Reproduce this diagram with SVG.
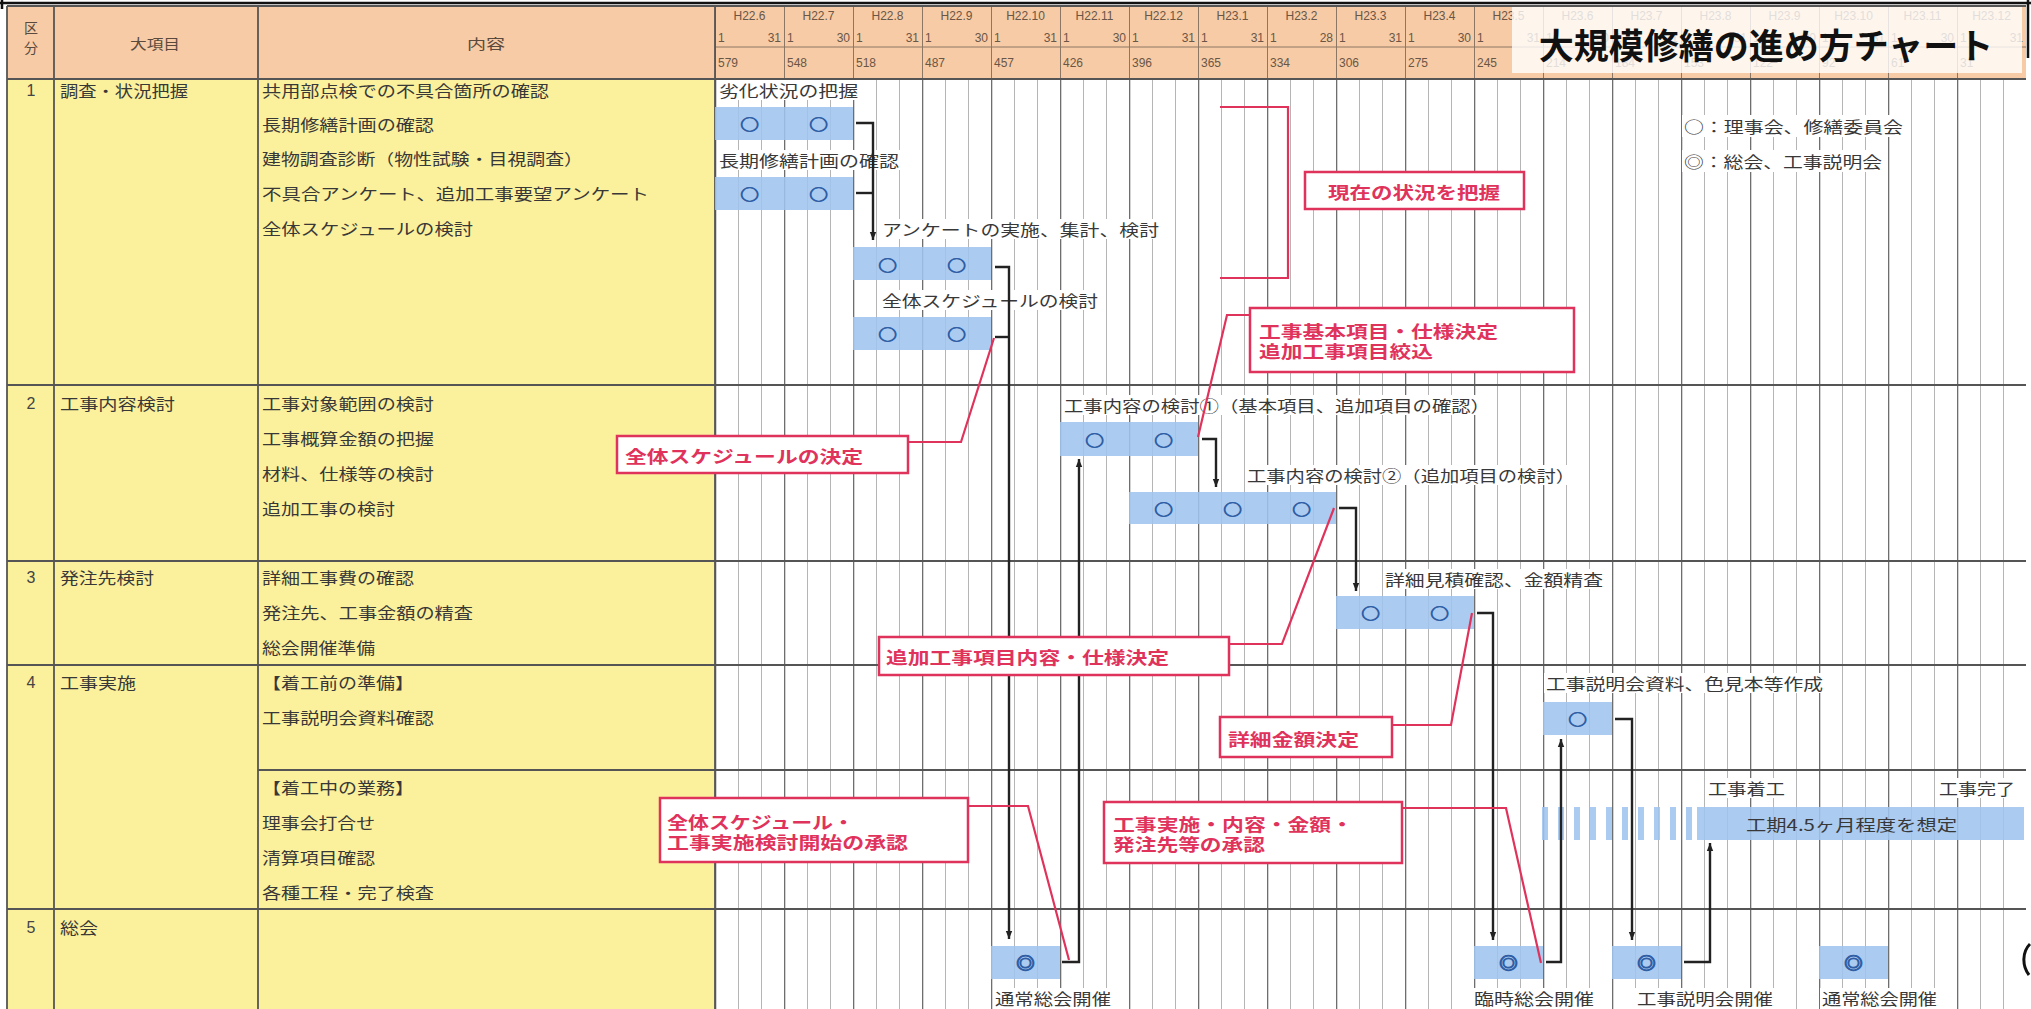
<svg xmlns="http://www.w3.org/2000/svg" width="2031" height="1009" viewBox="0 0 2031 1009">
<defs>
<style>
.t{font-family:"Noto Sans CJK JP","Noto Sans",sans-serif;font-size:15.5px;fill:#383838;dominant-baseline:central}
.th{font-family:"Noto Sans CJK JP","Noto Sans",sans-serif;font-size:14px;fill:#5a4a3e;dominant-baseline:central;text-anchor:middle}
.h{font-family:"Liberation Sans","Noto Sans",sans-serif;font-size:12px;fill:#6a5646;dominant-baseline:central}
.n{font-family:"Liberation Sans",sans-serif;font-size:16px;fill:#444;text-anchor:middle;dominant-baseline:central}
.r{font-family:"Noto Sans CJK JP",sans-serif;font-size:17px;font-weight:bold;fill:#E0335C;dominant-baseline:central}
.rb{fill:#fff;stroke:#E0335C;stroke-width:2.5}
.rl{fill:none;stroke:#E0335C;stroke-width:2.2}
.bar{fill:#9FC4EE;fill-opacity:0.88}
.c{fill:none;stroke:#222;stroke-width:2.4}
.sym{font-family:"Noto Sans CJK JP",sans-serif;font-size:15px;font-weight:bold;fill:#2F5EA5;stroke:#2F5EA5;stroke-width:0.7;text-anchor:middle;dominant-baseline:central}
.dsym{font-family:"Noto Sans CJK JP",sans-serif;font-size:16px;font-weight:bold;fill:#2F5EA5;stroke:#2F5EA5;stroke-width:1.1;text-anchor:middle;dominant-baseline:central}
.wb{fill:#fff}
.ln{stroke:#555;stroke-width:1.8}
.hl{stroke:#8c7664;stroke-width:1}
</style>
<pattern id="grid" x="715" y="0" width="69" height="10" patternUnits="userSpaceOnUse">
<rect x="0" y="0" width="69" height="10" fill="#fff"/>
<rect x="0" y="0" width="1.3" height="10" fill="#6e6e6e"/>
<rect x="23" y="0" width="0.9" height="10" fill="#adadad"/>
<rect x="46" y="0" width="0.9" height="10" fill="#adadad"/>
</pattern>
<pattern id="hgrid" x="715" y="0" width="69" height="10" patternUnits="userSpaceOnUse">
<rect x="0" y="0" width="69" height="10" fill="#F7CBA5"/>
<rect x="0" y="0" width="1" height="10" fill="#8c7664"/>
</pattern>
<marker id="ah" viewBox="0 0 10 10" refX="10" refY="5" markerWidth="8" markerHeight="8" markerUnits="userSpaceOnUse" orient="auto">
<path d="M0,1 L10,5 L0,9 z" fill="#222"/>
</marker>
</defs>

<rect x="0" y="0" width="2031" height="1009" fill="#fff"/>

<!-- header -->
<g id="header">
<rect x="7" y="6" width="708" height="73" fill="#F7CBA5"/>
<rect x="715" y="6" width="1311" height="73" fill="url(#hgrid)"/>
<line class="hl" x1="715" y1="47" x2="2026" y2="47"/>
<text class="th" x="31" y="27">区</text>
<text class="th" x="31" y="47">分</text>
<text class="th" x="155" y="43" textLength="50" lengthAdjust="spacingAndGlyphs">大項目</text>
<text class="th" x="486" y="43" textLength="38" lengthAdjust="spacingAndGlyphs">内容</text>
<text class="h" y="16" text-anchor="middle"><tspan x="749.5">H22.6</tspan><tspan x="818.5">H22.7</tspan><tspan x="887.5">H22.8</tspan><tspan x="956.5">H22.9</tspan><tspan x="1025.5">H22.10</tspan><tspan x="1094.5">H22.11</tspan><tspan x="1163.5">H22.12</tspan><tspan x="1232.5">H23.1</tspan><tspan x="1301.5">H23.2</tspan><tspan x="1370.5">H23.3</tspan><tspan x="1439.5">H23.4</tspan><tspan x="1508.5">H23.5</tspan><tspan x="1577.5">H23.6</tspan><tspan x="1646.5">H23.7</tspan><tspan x="1715.5">H23.8</tspan><tspan x="1784.5">H23.9</tspan><tspan x="1853.5">H23.10</tspan><tspan x="1922.5">H23.11</tspan><tspan x="1991.5">H23.12</tspan></text>
<text class="h" y="38"><tspan x="718">1</tspan><tspan x="787">1</tspan><tspan x="856">1</tspan><tspan x="925">1</tspan><tspan x="994">1</tspan><tspan x="1063">1</tspan><tspan x="1132">1</tspan><tspan x="1201">1</tspan><tspan x="1270">1</tspan><tspan x="1339">1</tspan><tspan x="1408">1</tspan><tspan x="1477">1</tspan><tspan x="1546">1</tspan><tspan x="1615">1</tspan><tspan x="1684">1</tspan><tspan x="1753">1</tspan><tspan x="1822">1</tspan><tspan x="1891">1</tspan><tspan x="1960">1</tspan></text>
<text class="h" y="38" text-anchor="end"><tspan x="781">31</tspan><tspan x="850">30</tspan><tspan x="919">31</tspan><tspan x="988">30</tspan><tspan x="1057">31</tspan><tspan x="1126">30</tspan><tspan x="1195">31</tspan><tspan x="1264">31</tspan><tspan x="1333">28</tspan><tspan x="1402">31</tspan><tspan x="1471">30</tspan><tspan x="1540">31</tspan><tspan x="1609">30</tspan><tspan x="1678">31</tspan><tspan x="1747">31</tspan><tspan x="1816">30</tspan><tspan x="1885">31</tspan><tspan x="1954">30</tspan><tspan x="2023">31</tspan></text>
<text class="h" y="63"><tspan x="718">579</tspan><tspan x="787">548</tspan><tspan x="856">518</tspan><tspan x="925">487</tspan><tspan x="994">457</tspan><tspan x="1063">426</tspan><tspan x="1132">396</tspan><tspan x="1201">365</tspan><tspan x="1270">334</tspan><tspan x="1339">306</tspan><tspan x="1408">275</tspan><tspan x="1477">245</tspan><tspan x="1546">214</tspan><tspan x="1615">184</tspan><tspan x="1684">153</tspan><tspan x="1753">122</tspan><tspan x="1822">92</tspan><tspan x="1891">61</tspan><tspan x="1960">31</tspan></text>
</g>

<!-- table body -->
<g id="table">
<rect x="7" y="79" width="708" height="930" fill="#FBF09C"/>
<rect x="715" y="79" width="1311" height="930" fill="url(#grid)"/>
<line class="ln" x1="7" y1="6" x2="7" y2="1009"/>
<line class="ln" x1="54" y1="6" x2="54" y2="1009"/>
<line class="ln" x1="258" y1="6" x2="258" y2="1009"/>
<line class="ln" x1="715" y1="6" x2="715" y2="1009"/>
<line class="ln" x1="7" y1="6" x2="2026" y2="6" stroke-width="1"/>
<line class="ln" x1="7" y1="79" x2="2026" y2="79" stroke-width="2.2"/>
<line class="ln" x1="7" y1="385" x2="2026" y2="385"/>
<line class="ln" x1="7" y1="561" x2="2026" y2="561"/>
<line class="ln" x1="7" y1="665" x2="2026" y2="665"/>
<line class="ln" x1="258" y1="770" x2="2026" y2="770" stroke-width="1.3"/>
<line class="ln" x1="7" y1="909" x2="2026" y2="909"/>

<text class="n" x="31" y="90">1</text>
<text class="t" x="60" y="90" textLength="128" lengthAdjust="spacingAndGlyphs">調査・状況把握</text>
<text class="t" x="262" y="90" textLength="287" lengthAdjust="spacingAndGlyphs">共用部点検での不具合箇所の確認</text>
<text class="t" x="262" y="124" textLength="172" lengthAdjust="spacingAndGlyphs">長期修繕計画の確認</text>
<text class="t" x="262" y="158" textLength="321" lengthAdjust="spacingAndGlyphs">建物調査診断（物性試験・目視調査）</text>
<text class="t" x="262" y="193" textLength="387" lengthAdjust="spacingAndGlyphs">不具合アンケート、追加工事要望アンケート</text>
<text class="t" x="262" y="228" textLength="211" lengthAdjust="spacingAndGlyphs">全体スケジュールの検討</text>

<text class="n" x="31" y="403">2</text>
<text class="t" x="60" y="403" textLength="115" lengthAdjust="spacingAndGlyphs">工事内容検討</text>
<text class="t" x="262" y="403" textLength="172" lengthAdjust="spacingAndGlyphs">工事対象範囲の検討</text>
<text class="t" x="262" y="438" textLength="172" lengthAdjust="spacingAndGlyphs">工事概算金額の把握</text>
<text class="t" x="262" y="473" textLength="172" lengthAdjust="spacingAndGlyphs">材料、仕様等の検討</text>
<text class="t" x="262" y="508" textLength="133" lengthAdjust="spacingAndGlyphs">追加工事の検討</text>

<text class="n" x="31" y="577">3</text>
<text class="t" x="60" y="577" textLength="94" lengthAdjust="spacingAndGlyphs">発注先検討</text>
<text class="t" x="262" y="577" textLength="152" lengthAdjust="spacingAndGlyphs">詳細工事費の確認</text>
<text class="t" x="262" y="612" textLength="211" lengthAdjust="spacingAndGlyphs">発注先、工事金額の精査</text>
<text class="t" x="262" y="647" textLength="113" lengthAdjust="spacingAndGlyphs">総会開催準備</text>

<text class="n" x="31" y="682">4</text>
<text class="t" x="60" y="682" textLength="76" lengthAdjust="spacingAndGlyphs">工事実施</text>
<text class="t" x="262" y="682" textLength="152" lengthAdjust="spacingAndGlyphs">【着工前の準備】</text>
<text class="t" x="262" y="717" textLength="172" lengthAdjust="spacingAndGlyphs">工事説明会資料確認</text>
<text class="t" x="262" y="787" textLength="152" lengthAdjust="spacingAndGlyphs">【着工中の業務】</text>
<text class="t" x="262" y="822" textLength="113" lengthAdjust="spacingAndGlyphs">理事会打合せ</text>
<text class="t" x="262" y="857" textLength="113" lengthAdjust="spacingAndGlyphs">清算項目確認</text>
<text class="t" x="262" y="892" textLength="172" lengthAdjust="spacingAndGlyphs">各種工程・完了検査</text>

<text class="n" x="31" y="927">5</text>
<text class="t" x="60" y="927" textLength="38" lengthAdjust="spacingAndGlyphs">総会</text>
</g>

<!-- legend -->
<g id="legend">
<rect class="wb" x="1682" y="115" width="224" height="22"/>
<rect class="wb" x="1682" y="150" width="203" height="22"/>
<text class="t" x="1684" y="126" textLength="219" lengthAdjust="spacingAndGlyphs">○：理事会、修繕委員会</text>
<text class="t" x="1684" y="161" textLength="198" lengthAdjust="spacingAndGlyphs">◎：総会、工事説明会</text>
</g>

<!-- nodes -->
<g id="n-rekka">
<rect class="wb" x="717" y="80" width="143" height="20"/>
<text class="t" x="719" y="90" textLength="139" lengthAdjust="spacingAndGlyphs">劣化状況の把握</text>
<rect class="bar" x="715" y="107" width="138" height="33"/>
<text class="sym" transform="translate(749.5,123) scale(1.25,1)">○</text>
<text class="sym" transform="translate(818.5,123) scale(1.25,1)">○</text>
</g>
<g id="n-choki">
<rect class="wb" x="717" y="150" width="184" height="20"/>
<text class="t" x="719" y="160" textLength="180" lengthAdjust="spacingAndGlyphs">長期修繕計画の確認</text>
<rect class="bar" x="715" y="177" width="138" height="33"/>
<text class="sym" transform="translate(749.5,193) scale(1.25,1)">○</text>
<text class="sym" transform="translate(818.5,193) scale(1.25,1)">○</text>
</g>
<g id="n-enquete">
<rect class="wb" x="880" y="219" width="281" height="20"/>
<text class="t" x="882" y="229" textLength="277" lengthAdjust="spacingAndGlyphs">アンケートの実施、集計、検討</text>
<rect class="bar" x="853" y="247" width="138" height="33"/>
<text class="sym" transform="translate(887.5,264) scale(1.25,1)">○</text>
<text class="sym" transform="translate(956.5,264) scale(1.25,1)">○</text>
</g>
<g id="n-schedule">
<rect class="wb" x="880" y="290" width="220" height="20"/>
<text class="t" x="882" y="300" textLength="216" lengthAdjust="spacingAndGlyphs">全体スケジュールの検討</text>
<rect class="bar" x="853" y="317" width="138" height="33"/>
<text class="sym" transform="translate(887.5,333) scale(1.25,1)">○</text>
<text class="sym" transform="translate(956.5,333) scale(1.25,1)">○</text>
</g>
<g id="n-naiyo1">
<rect class="wb" x="1062" y="395" width="430" height="20"/>
<text class="t" x="1064" y="405" textLength="426" lengthAdjust="spacingAndGlyphs">工事内容の検討①（基本項目、追加項目の確認）</text>
<rect class="bar" x="1060" y="422" width="138" height="34"/>
<text class="sym" transform="translate(1094.5,439) scale(1.25,1)">○</text>
<text class="sym" transform="translate(1163.5,439) scale(1.25,1)">○</text>
</g>
<g id="n-naiyo2">
<rect class="wb" x="1245" y="465" width="332" height="20"/>
<text class="t" x="1247" y="475" textLength="328" lengthAdjust="spacingAndGlyphs">工事内容の検討②（追加項目の検討）</text>
<rect class="bar" x="1129" y="492" width="207" height="32"/>
<text class="sym" transform="translate(1163.5,508) scale(1.25,1)">○</text>
<text class="sym" transform="translate(1232.5,508) scale(1.25,1)">○</text>
<text class="sym" transform="translate(1301.5,508) scale(1.25,1)">○</text>
</g>
<g id="n-mitsumori">
<rect class="wb" x="1383" y="569" width="222" height="20"/>
<text class="t" x="1385" y="579" textLength="218" lengthAdjust="spacingAndGlyphs">詳細見積確認、金額精査</text>
<rect class="bar" x="1336" y="596" width="138" height="33"/>
<text class="sym" transform="translate(1370.5,612) scale(1.25,1)">○</text>
<text class="sym" transform="translate(1439.5,612) scale(1.25,1)">○</text>
</g>
<g id="n-shiryo">
<rect class="wb" x="1544" y="673" width="281" height="20"/>
<text class="t" x="1546" y="683" textLength="277" lengthAdjust="spacingAndGlyphs">工事説明会資料、色見本等作成</text>
<rect class="bar" x="1543" y="702" width="69" height="33"/>
<text class="sym" transform="translate(1577.5,718) scale(1.25,1)">○</text>
</g>
<g id="n-koji">
<rect class="wb" x="1706" y="778" width="81" height="20"/>
<text class="t" x="1708" y="788" textLength="77" lengthAdjust="spacingAndGlyphs">工事着工</text>
<rect class="wb" x="1937" y="778" width="80" height="20"/>
<text class="t" x="1939" y="788" textLength="76" lengthAdjust="spacingAndGlyphs">工事完了</text>
<line x1="1542" y1="823.5" x2="1697" y2="823.5" stroke="#9FC4EE" stroke-opacity="0.88" stroke-width="33" stroke-dasharray="6 10"/>
<rect class="bar" x="1697" y="807" width="327" height="33"/>
<text class="t" x="1746" y="824" textLength="211" lengthAdjust="spacingAndGlyphs">工期4.5ヶ月程度を想定</text>
</g>
<g id="n-soukai1">
<rect class="bar" x="991" y="946" width="69" height="33"/>
<text class="dsym" transform="translate(1025.5,962) scale(1.15,1)">◎</text>
<rect class="wb" x="993" y="988" width="120" height="21"/>
<text class="t" x="995" y="998" textLength="116" lengthAdjust="spacingAndGlyphs">通常総会開催</text>
</g>
<g id="n-rinji">
<rect class="bar" x="1474" y="946" width="69" height="33"/>
<text class="dsym" transform="translate(1508.5,962) scale(1.15,1)">◎</text>
<rect class="wb" x="1472" y="988" width="124" height="21"/>
<text class="t" x="1474" y="998" textLength="120" lengthAdjust="spacingAndGlyphs">臨時総会開催</text>
</g>
<g id="n-setsumeikai">
<rect class="bar" x="1612" y="946" width="69" height="33"/>
<text class="dsym" transform="translate(1646.5,962) scale(1.15,1)">◎</text>
<rect class="wb" x="1635" y="988" width="140" height="21"/>
<text class="t" x="1637" y="998" textLength="136" lengthAdjust="spacingAndGlyphs">工事説明会開催</text>
</g>
<g id="n-soukai2">
<rect class="bar" x="1819" y="946" width="69" height="33"/>
<text class="dsym" transform="translate(1853.5,962) scale(1.15,1)">◎</text>
<rect class="wb" x="1820" y="988" width="119" height="21"/>
<text class="t" x="1822" y="998" textLength="115" lengthAdjust="spacingAndGlyphs">通常総会開催</text>
</g>

<!-- connectors -->
<g id="connectors">
<path class="c" d="M856,123 H873 V240" marker-end="url(#ah)"/>
<path class="c" d="M856,193 H873"/>
<path class="c" d="M995,267 H1009 V939" marker-end="url(#ah)"/>
<path class="c" d="M995,337 H1009"/>
<path class="c" d="M1062,962 H1079 V459" marker-end="url(#ah)"/>
<path class="c" d="M1202,439 H1216 V487" marker-end="url(#ah)"/>
<path class="c" d="M1339,508 H1356 V591" marker-end="url(#ah)"/>
<path class="c" d="M1477,613 H1493 V940" marker-end="url(#ah)"/>
<path class="c" d="M1546,962 H1561 V739" marker-end="url(#ah)"/>
<path class="c" d="M1615,719 H1632 V940" marker-end="url(#ah)"/>
<path class="c" d="M1684,962 H1710 V843" marker-end="url(#ah)"/>
<path class="rl" d="M1220,107 H1288 V278 H1220"/>
<path class="rl" d="M1250,315 H1227 L1198,437"/>
<path class="rl" d="M908,442 H961 L994,338"/>
<path class="rl" d="M1229,644 H1282 L1334,508"/>
<path class="rl" d="M1392,725 H1451 L1472,613"/>
<path class="rl" d="M968,806 H1028 L1069,960"/>
<path class="rl" d="M1402,808 H1506 L1541,963"/>
</g>

<!-- callouts -->
<g id="c-genzai">
<rect class="rb" x="1305" y="172" width="219" height="37"/>
<text class="r" x="1328" y="191" textLength="172" lengthAdjust="spacingAndGlyphs">現在の状況を把握</text>
</g>
<g id="c-kihon">
<rect class="rb" x="1250" y="308" width="324" height="64"/>
<text class="r" x="1259" y="330" textLength="239" lengthAdjust="spacingAndGlyphs">工事基本項目・仕様決定</text>
<text class="r" x="1259" y="350" textLength="174" lengthAdjust="spacingAndGlyphs">追加工事項目絞込</text>
</g>
<g id="c-kettei">
<rect class="rb" x="617" y="436" width="291" height="37"/>
<text class="r" x="625" y="455" textLength="238" lengthAdjust="spacingAndGlyphs">全体スケジュールの決定</text>
</g>
<g id="c-tsuika">
<rect class="rb" x="879" y="637" width="350" height="38"/>
<text class="r" x="886" y="656" textLength="283" lengthAdjust="spacingAndGlyphs">追加工事項目内容・仕様決定</text>
</g>
<g id="c-kingaku">
<rect class="rb" x="1220" y="717" width="172" height="40"/>
<text class="r" x="1228" y="738" textLength="131" lengthAdjust="spacingAndGlyphs">詳細金額決定</text>
</g>
<g id="c-shonin1">
<rect class="rb" x="660" y="798" width="308" height="64"/>
<text class="r" x="667" y="821" textLength="187" lengthAdjust="spacingAndGlyphs">全体スケジュール・</text>
<text class="r" x="667" y="841" textLength="241" lengthAdjust="spacingAndGlyphs">工事実施検討開始の承認</text>
</g>
<g id="c-shonin2">
<rect class="rb" x="1104" y="802" width="298" height="61"/>
<text class="r" x="1113" y="823" textLength="240" lengthAdjust="spacingAndGlyphs">工事実施・内容・金額・</text>
<text class="r" x="1113" y="843" textLength="152" lengthAdjust="spacingAndGlyphs">発注先等の承認</text>
</g>

<!-- title -->
<g id="title">
<rect x="1512" y="7" width="510" height="66" fill="#fff" fill-opacity="0.8"/>
<text x="1766" y="43" font-family="Noto Sans CJK JP, sans-serif" font-size="35" font-weight="bold" fill="#111" text-anchor="middle" dominant-baseline="central">大規模修繕の進め方チャート</text>
</g>

<!-- frame -->
<g id="frame" stroke="#111" stroke-width="2.5" fill="none">
<line x1="0" y1="3" x2="2031" y2="3"/>
<line x1="2028" y1="0" x2="2028" y2="58"/>
<line x1="2" y1="0" x2="2" y2="9"/>
<path d="M2030,944 C2022,952 2022,966 2029,975" stroke-width="3"/>
</g>
</svg>
